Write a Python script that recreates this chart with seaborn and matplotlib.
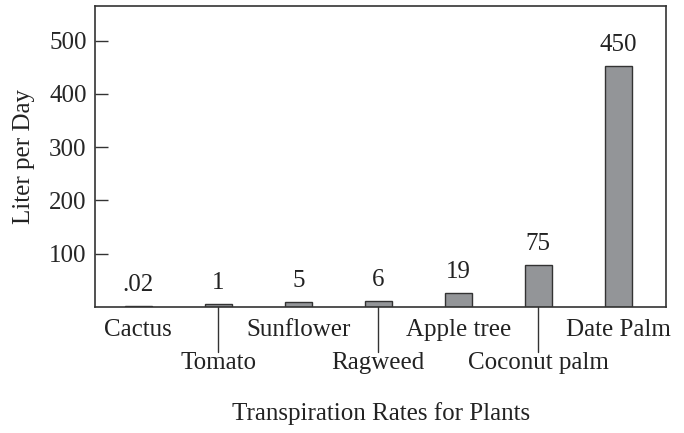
"""
Transpiration rates for plants: simple bar chart, Times-like look.
"""

import matplotlib
matplotlib.use("Agg")
import matplotlib.pyplot as plt
import matplotlib.transforms as mtransforms
import seaborn as sns

# Data
plantes = ["Cactus", "Tomato", "Sunflower", "Ragweed", "Apple tree", "Coconut palm", "Date Palm"]
etiquettes = [".02", "1", "5", "6", "19", "75", "450"]
# bar heights as drawn in the picture (small values are drawn with a visible height)
hauteurs = [2, 6, 9, 12, 26, 79, 453]
yticks = [100, 200, 300, 400, 500]

sns.set_style("white")
plt.rcParams["font.family"] = ["Liberation Serif", "DejaVu Serif"]

fig = plt.figure(figsize=(6.84, 4.33), dpi=100)
ax = fig.add_axes([0.139, 0.291, 0.835, 0.695])

sns.barplot(x=plantes, y=hauteurs, color="#939598", edgecolor="#333333",
            linewidth=1.0, width=0.34, saturation=1, ax=ax)

ax.set_xlim(-0.54, 6.6)
ax.set_ylim(0, 565)
ax.set_yticks(yticks)
ax.tick_params(axis="y", direction="in", length=9, width=1.0, color="#333333",
               labelsize=18, pad=6, left=True)
ax.tick_params(axis="x", length=0, labelsize=18, pad=9)

for s in ax.spines.values():
    s.set_color("#333333")
    s.set_linewidth(1.2)

# Value labels on top of the bars
ax.bar_label(ax.containers[0], labels=etiquettes, padding=7, fontsize=18, color="#222222")

# Alternating labels: even ones on the axis, odd ones on a second row with a leader line
ax.set_xticks(range(len(plantes)))
ax.set_xticklabels([nom if i % 2 == 0 else "" for i, nom in enumerate(plantes)], color="#222222")

trans = mtransforms.blended_transform_factory(ax.transData, ax.transAxes)
for i in range(1, len(plantes), 2):
    ax.plot([i, i], [0, -0.15], transform=trans, color="#333333", lw=1.0, clip_on=False)
    ax.text(i, -0.148, plantes[i], transform=trans, ha="center", va="top",
            fontsize=18, color="#222222")

ax.set_ylabel("Liter per Day", fontsize=18, color="#222222", labelpad=10)
ax.set_xlabel("Transpiration Rates for Plants", fontsize=18, color="#222222")
ax.xaxis.set_label_coords(0.5, -0.315)

fig.savefig("out.png", dpi=100)
